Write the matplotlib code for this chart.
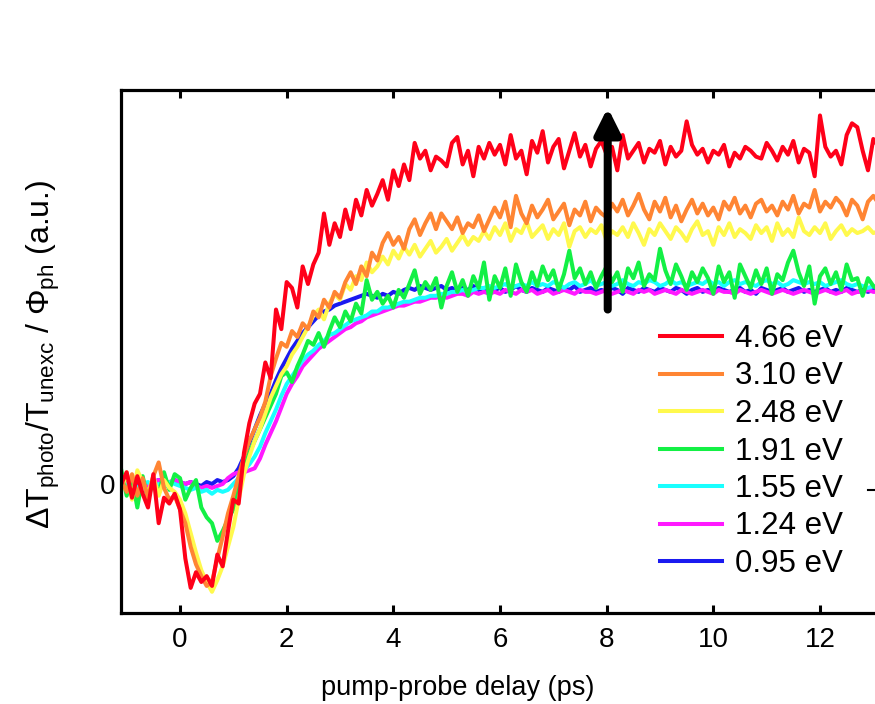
import numpy as np
import matplotlib
matplotlib.use("Agg")
import matplotlib.pyplot as plt
from matplotlib.lines import Line2D

plt.rcParams["font.family"] = ["Liberation Sans", "DejaVu Sans"]
plt.rcParams["mathtext.fontset"] = "custom"
plt.rcParams["mathtext.rm"] = "Liberation Sans"
plt.rcParams["mathtext.it"] = "Liberation Sans:italic"
plt.rcParams["mathtext.default"] = "regular"

# pump-probe delay grid (ps), 0.1 ps steps
delay = np.round(np.arange(-1.1, 13.15, 0.1), 2)

labels = ["4.66 eV", "3.10 eV", "2.48 eV", "1.91 eV", "1.55 eV", "1.24 eV", "0.95 eV"]
colors = ["#FF0019", "#FF8533", "#FFF94D", "#13F045", "#19FFFF", "#FF19FF", "#1A1AF0"]

ev_466 = [
    0.00, 0.06, -0.07, 0.04, -0.05, -0.12, 0.05, -0.20, -0.07, -0.10,
    -0.05, -0.13, -0.38, -0.53, -0.45, -0.50, -0.47, -0.52, -0.36, -0.42,
    -0.24, -0.08, -0.10, 0.16, 0.31, 0.41, 0.46, 0.62, 0.54, 0.89,
    0.79, 1.03, 1.00, 0.90, 1.11, 1.02, 1.12, 1.18, 1.38, 1.22,
    1.33, 1.26, 1.40, 1.30, 1.45, 1.37, 1.50, 1.42, 1.48, 1.55,
    1.45, 1.60, 1.52, 1.63, 1.55, 1.74, 1.66, 1.70, 1.60, 1.67,
    1.65, 1.62, 1.74, 1.77, 1.63, 1.70, 1.57, 1.72, 1.66, 1.74,
    1.68, 1.73, 1.63, 1.78, 1.66, 1.70, 1.58, 1.75, 1.69, 1.80,
    1.64, 1.72, 1.76, 1.61, 1.70, 1.79, 1.67, 1.73, 1.62, 1.71,
    1.75, 1.68, 1.72, 1.60, 1.78, 1.66, 1.70, 1.74, 1.64, 1.71,
    1.69, 1.75, 1.63, 1.72, 1.67, 1.70, 1.85, 1.73, 1.68, 1.71,
    1.64, 1.70, 1.68, 1.73, 1.62, 1.69, 1.66, 1.72, 1.70, 1.67,
    1.66, 1.74, 1.70, 1.65, 1.72, 1.68, 1.75, 1.64, 1.71, 1.69,
    1.57, 1.88, 1.72, 1.67, 1.70, 1.63, 1.78, 1.84, 1.82, 1.70,
    1.60, 1.76, 1.72,
]
ev_310 = [
    0.02, -0.04, 0.05, -0.06, 0.03, -0.07, 0.04, 0.11, -0.02, -0.08,
    -0.06, -0.13, -0.20, -0.32, -0.41, -0.47, -0.52, -0.50, -0.38, -0.27,
    -0.15, -0.06, 0.04, 0.14, 0.22, 0.28, 0.34, 0.42, 0.55, 0.64,
    0.72, 0.70, 0.78, 0.75, 0.82, 0.79, 0.88, 0.85, 0.94, 0.90,
    0.98, 0.95, 1.03, 1.08, 1.02, 1.11, 1.06, 1.18, 1.14, 1.23,
    1.28, 1.22, 1.26, 1.20, 1.30, 1.35, 1.27, 1.33, 1.38, 1.30,
    1.38, 1.34, 1.30, 1.36, 1.28, 1.33, 1.31, 1.37, 1.29, 1.35,
    1.41, 1.36, 1.44, 1.31, 1.47, 1.38, 1.33, 1.42, 1.36, 1.40,
    1.45, 1.35, 1.39, 1.43, 1.32, 1.40, 1.37, 1.44, 1.34, 1.41,
    1.38, 1.36, 1.43, 1.39, 1.45, 1.37, 1.42, 1.48, 1.40, 1.35,
    1.44, 1.39, 1.46, 1.36, 1.42, 1.34, 1.40, 1.45, 1.38, 1.43,
    1.37, 1.41, 1.35, 1.44, 1.40, 1.46, 1.38, 1.42, 1.36, 1.43,
    1.45, 1.39, 1.42, 1.37, 1.44, 1.40, 1.47, 1.38, 1.43, 1.41,
    1.50, 1.39, 1.44, 1.41, 1.46, 1.43, 1.37, 1.45, 1.42, 1.35,
    1.44, 1.47, 1.43,
]
ev_248 = [
    -0.03, 0.06, -0.08, 0.07, 0.01, -0.05, 0.04, -0.06, 0.02, -0.02,
    -0.04, -0.08, -0.15, -0.25, -0.35, -0.44, -0.50, -0.55, -0.49, -0.42,
    -0.32, -0.22, -0.08, 0.05, 0.14, 0.22, 0.28, 0.36, 0.44, 0.50,
    0.56, 0.60, 0.66, 0.70, 0.75, 0.80, 0.86, 0.89, 0.84, 0.92,
    0.97, 0.94, 1.02, 0.99, 1.06, 1.04, 1.13, 1.08, 1.11, 1.16,
    1.12, 1.19, 1.15, 1.21, 1.17, 1.22, 1.16, 1.20, 1.24, 1.18,
    1.21, 1.25, 1.19, 1.23, 1.27, 1.22, 1.26, 1.24, 1.29, 1.25,
    1.31, 1.27, 1.33, 1.24, 1.30, 1.28, 1.34, 1.26, 1.29, 1.32,
    1.25, 1.30, 1.27, 1.33, 1.21, 1.29, 1.31, 1.26, 1.30, 1.28,
    1.32, 1.24, 1.29, 1.27, 1.31, 1.26, 1.33, 1.28, 1.22, 1.30,
    1.27, 1.33, 1.29, 1.25, 1.31, 1.28, 1.24, 1.30, 1.34, 1.27,
    1.29, 1.22, 1.31, 1.27, 1.33, 1.26, 1.30, 1.28, 1.25, 1.32,
    1.28, 1.31, 1.24, 1.33, 1.27, 1.30, 1.26, 1.36, 1.29, 1.27,
    1.31, 1.28, 1.33, 1.25, 1.29, 1.32, 1.27, 1.30, 1.28, 1.29,
    1.31, 1.28, 1.29,
]
ev_191 = [
    0.07, -0.06, 0.03, -0.12, 0.04, -0.08, 0.02, -0.05, 0.06, -0.03,
    0.05, 0.03, -0.08, -0.02, 0.02, -0.12, -0.17, -0.20, -0.29, -0.24,
    -0.18, -0.13, -0.02, 0.08, 0.16, 0.22, 0.28, 0.34, 0.40, 0.46,
    0.55, 0.57, 0.52, 0.60, 0.66, 0.73, 0.71, 0.77, 0.70, 0.78,
    0.85, 0.80, 0.88, 0.83, 0.92, 0.87, 1.04, 0.94, 0.98, 0.92,
    0.96, 0.90, 0.99, 0.95, 1.02, 1.09, 0.97, 1.03, 0.99, 1.05,
    0.90, 1.01, 1.08, 0.98, 1.04, 0.96, 1.06, 1.00, 1.13, 0.94,
    1.06, 1.00, 1.10, 0.96, 1.12, 1.03, 0.98, 1.08, 1.01, 1.11,
    1.04, 1.09, 0.99, 1.07, 1.19, 1.05, 1.10, 1.02, 1.08, 1.00,
    1.06, 1.11, 1.03, 1.08, 0.98, 1.10, 1.05, 1.13, 1.01, 1.07,
    1.04, 1.20, 1.09, 1.02, 1.12, 1.06, 0.99, 1.08, 1.03, 1.10,
    1.05, 0.97, 1.11, 1.03, 1.08, 0.95, 1.12, 1.06, 1.00, 1.09,
    1.02, 1.10, 0.97, 1.07, 1.04, 1.13, 1.19, 1.08, 1.01, 1.11,
    0.92, 1.06, 1.10, 1.02, 1.08, 0.99, 1.12, 1.04, 1.05, 0.96,
    1.05, 1.01, 0.99,
]
ev_155 = [
    0.00, -0.01, 0.01, -0.02, 0.00, 0.01, -0.01, 0.00, -0.02, 0.01,
    0.00, -0.01, -0.02, -0.03, -0.02, -0.04, -0.03, -0.05, -0.03, -0.04,
    -0.03, 0.00, 0.03, 0.07, 0.10, 0.14, 0.19, 0.26, 0.32, 0.38,
    0.45, 0.51, 0.55, 0.59, 0.63, 0.66, 0.68, 0.71, 0.73, 0.76,
    0.77, 0.79, 0.81, 0.83, 0.84, 0.85, 0.86, 0.88, 0.88, 0.90,
    0.90, 0.91, 0.92, 0.93, 0.93, 0.94, 0.95, 0.95, 0.96, 0.96,
    0.97, 0.97, 0.98, 0.98, 0.99, 0.98, 0.99, 1.00, 1.00, 1.01,
    1.00, 1.01, 1.02, 1.00, 1.01, 1.02, 1.01, 1.03, 1.01, 1.02,
    1.01, 1.03, 1.02, 1.00, 1.02, 1.03, 1.01, 1.02, 1.04, 1.01,
    1.02, 1.03, 1.01, 1.02, 1.04, 1.02, 1.01, 1.03, 1.02, 1.04,
    1.03, 1.01, 1.02, 1.04, 1.02, 1.03, 1.01, 1.02, 1.03, 1.02,
    1.04, 1.02, 1.03, 1.01, 1.03, 1.04, 1.02, 1.03, 1.02, 1.01,
    1.03, 1.04, 1.02, 1.03, 1.01, 1.02, 1.04, 1.03, 1.02, 1.03,
    1.02, 1.03, 1.01, 1.02, 1.03, 1.04, 1.02, 1.01, 1.02, 1.01,
    1.00, 1.01, 1.00,
]
ev_124 = [
    0.01, 0.00, -0.01, 0.01, 0.00, -0.01, 0.01, 0.02, 0.00, 0.01,
    0.02, 0.01, 0.00, 0.01, -0.01, -0.02, -0.01, -0.02, -0.01, 0.00,
    0.03, 0.05, 0.06, 0.06, 0.07, 0.08, 0.13, 0.20, 0.26, 0.32,
    0.39, 0.46, 0.51, 0.55, 0.60, 0.63, 0.66, 0.69, 0.71, 0.73,
    0.75, 0.77, 0.79, 0.80, 0.82, 0.83, 0.85, 0.86, 0.87, 0.88,
    0.89, 0.90, 0.91, 0.91, 0.92, 0.93, 0.93, 0.94, 0.95, 0.95,
    0.96, 0.95, 0.96, 0.97, 0.97, 0.96, 0.98, 0.97, 0.98, 0.97,
    0.98, 0.97, 0.99, 0.98, 0.97, 0.99, 0.98, 0.99, 0.97, 0.98,
    0.99, 0.97, 0.98, 0.99, 0.98, 0.97, 0.99, 0.98, 0.98, 0.97,
    0.98, 0.99, 0.97, 0.98, 0.99, 0.98, 0.97, 0.99, 0.98, 0.99,
    0.97, 0.98, 0.99, 0.98, 0.97, 0.99, 0.98, 0.97, 0.98, 0.99,
    0.98, 0.97, 0.99, 0.98, 0.98, 0.97, 0.99, 0.98, 0.97, 0.98,
    0.99, 0.98, 0.97, 0.98, 0.99, 0.98, 0.97, 0.98, 0.99, 0.98,
    0.97, 0.98, 0.99, 0.98, 0.97, 0.98, 0.99, 0.97, 0.98, 0.98,
    0.99, 0.98, 0.98,
]
ev_095 = [
    0.00, 0.01, 0.00, -0.01, 0.01, 0.00, 0.01, 0.02, 0.01, 0.00,
    0.02, 0.01, 0.00, 0.01, 0.00, -0.01, 0.01, 0.00, 0.02, 0.01,
    0.02, 0.04, 0.08, 0.14, 0.21, 0.28, 0.35, 0.41, 0.46, 0.53,
    0.59, 0.64, 0.69, 0.73, 0.77, 0.80, 0.83, 0.86, 0.88, 0.89,
    0.91, 0.92, 0.93, 0.94, 0.95, 0.96, 0.97, 0.96, 0.95, 0.97,
    0.96, 0.98, 0.97, 0.99, 1.00, 0.99, 1.01, 1.00, 0.99, 1.00,
    1.01, 0.99, 1.00, 0.98, 1.00, 0.99, 1.01, 0.99, 1.00, 0.98,
    0.99, 1.00, 0.98, 0.99, 1.01, 0.99, 0.98, 1.00, 0.99, 0.98,
    1.00, 0.99, 0.98, 1.00, 0.99, 1.01, 0.98, 0.99, 1.00, 0.98,
    0.99, 0.98, 1.00, 0.99, 0.97, 1.00, 0.99, 0.98, 1.00, 0.99,
    0.98, 1.00, 0.99, 0.98, 1.00, 0.99, 0.97, 0.99, 1.00, 0.98,
    0.99, 0.98, 1.00, 0.99, 0.98, 0.99, 1.00, 0.98, 0.99, 0.97,
    1.00, 0.99, 0.98, 0.99, 1.00, 0.98, 0.99, 1.00, 0.98, 0.99,
    0.98, 0.99, 1.00, 0.98, 0.99, 0.98, 1.00, 0.99, 0.98, 0.99,
    0.98, 0.99, 0.98,
]
series = [ev_466, ev_310, ev_248, ev_191, ev_155, ev_124, ev_095]

# arrow marking increasing photon energy
arrow_delay = 8.02
arrow_from, arrow_to = 0.89, 1.92

fig = plt.figure(figsize=(8.75, 7.04), dpi=100)
ax = fig.add_axes([0.1383, 0.1293, 0.8674, 0.7429])

handles = [None] * len(series)
for i in reversed(range(len(series))):
    (ln,) = ax.plot(delay, series[i], color=colors[i], lw=2.9, label=labels[i],
                    solid_joinstyle="round")
    handles[i] = ln

ax.annotate("", xy=(arrow_delay, arrow_to), xytext=(arrow_delay, arrow_from),
            arrowprops=dict(arrowstyle="-|>,head_length=0.6,head_width=0.3",
                            mutation_scale=25, lw=5.8, color="black",
                            shrinkA=0, shrinkB=0),
            zorder=10)

ax.set_xlim(-1.106, 13.125)
ax.set_ylim(-0.658, 2.01)
ax.set_xticks([0, 2, 4, 6, 8, 10, 12])
ax.set_yticks([0])
ax.tick_params(direction="in", length=6, width=2.2, labelsize=20, top=True,
               right=False)
ax.tick_params(axis="x", pad=10)
ax.tick_params(axis="y", pad=4)
for sp in ax.spines.values():
    sp.set_linewidth(2.3)

ax.set_xlabel("pump-probe delay (ps)", fontsize=19.5)
ax.xaxis.set_label_coords(0.444, -0.118)
ax.set_ylabel(r"$\Delta$T$_{\rm photo}$/T$_{\rm unexc}$ / $\Phi_{\rm ph}$ (a.u.)",
              fontsize=23)
ax.yaxis.set_label_coords(-0.078, 0.495)

leg = ax.legend(handles=handles, loc="upper left",
                bbox_to_anchor=(660 / 875, 1 - 324 / 704),
                bbox_transform=fig.transFigure, frameon=False, fontsize=22.5,
                handlelength=1.98, handletextpad=0.42, labelspacing=0.24,
                borderpad=0, borderaxespad=0)

# short tick of the adjoining frame at the right edge
fig.add_artist(Line2D([868 / 875, 877 / 875], [1 - 490 / 704, 1 - 490 / 704],
                      color="black", lw=1.5))

fig.savefig("out.png", dpi=100)
